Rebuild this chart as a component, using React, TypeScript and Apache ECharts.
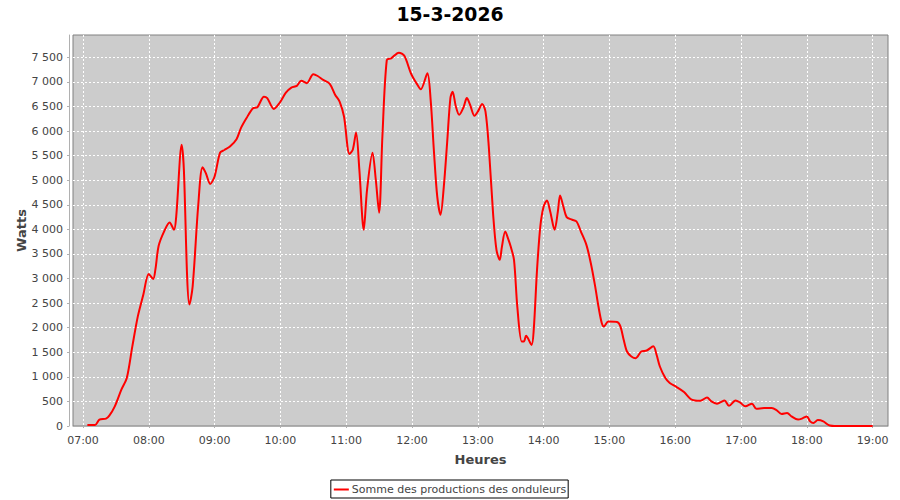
import React, { useEffect, useRef } from "react";
import * as echarts from "echarts";

const chartTitle = "15-3-2026";
const seriesName = "Somme des productions des onduleurs";
const xAxisName = "Heures";
const yAxisName = "Watts";

const times = [
  "07:04", "07:11", "07:15", "07:21", "07:24", "07:29", "07:35", "07:40", "07:45", "07:50",
  "07:55", "08:00", "08:04", "08:06", "08:09", "08:14", "08:19", "08:23", "08:25", "08:30",
  "08:32", "08:35", "08:37", "08:40", "08:45", "08:49", "08:52", "08:56", "09:00", "09:05",
  "09:09", "09:14", "09:20", "09:24", "09:29", "09:35", "09:39", "09:45", "09:48", "09:54",
  "09:59", "10:05", "10:10", "10:15", "10:19", "10:24", "10:30", "10:34", "10:39", "10:45",
  "10:50", "10:54", "10:58", "11:03", "11:06", "11:09", "11:12", "11:16", "11:19", "11:24",
  "11:27", "11:30", "11:33", "11:37", "11:41", "11:48", "11:53", "11:59", "12:04", "12:08",
  "12:14", "12:17", "12:20", "12:23", "12:26", "12:29", "12:32", "12:35", "12:37", "12:40",
  "12:43", "12:47", "12:50", "12:53", "12:57", "13:00", "13:04", "13:07", "13:10", "13:14",
  "13:17", "13:20", "13:22", "13:25", "13:28", "13:30", "13:33", "13:36", "13:40", "13:42",
  "13:44", "13:49", "13:51", "13:54", "13:57", "14:00", "14:03", "14:06", "14:10", "14:13",
  "14:15", "14:18", "14:21", "14:26", "14:30", "14:34", "14:39", "14:43", "14:47", "14:50",
  "14:53", "14:55", "14:59", "15:07", "15:10", "15:13", "15:16", "15:20", "15:24", "15:29",
  "15:34", "15:40", "15:43", "15:46", "15:51", "15:55", "16:01", "16:08", "16:14", "16:18",
  "16:23", "16:29", "16:33", "16:38", "16:41", "16:45", "16:49", "16:55", "16:59", "17:04",
  "17:10", "17:14", "17:21", "17:28", "17:32", "17:37", "17:42", "17:46", "17:52", "17:56",
  "18:00", "18:03", "18:06", "18:10", "18:15", "18:19", "18:21", "18:25", "18:30", "18:35",
  "18:40", "18:45", "18:50", "18:55", "19:00"
];

const watts = [
  20, 20, 130, 150, 210, 400, 740, 980, 1620, 2230,
  2670, 3090, 2990, 3180, 3665, 3960, 4140, 3990, 4260, 5720,
  5210, 3015, 2470, 2840, 4465, 5265, 5145, 4925, 5075, 5560,
  5615, 5685, 5835, 6060, 6260, 6465, 6485, 6700, 6670, 6450,
  6565, 6780, 6885, 6920, 7025, 6975, 7155, 7120, 7040, 6960,
  6735, 6600, 6295, 5535, 5620, 5970, 5210, 3990, 4805, 5560,
  5005, 4340, 5890, 7445, 7480, 7595, 7530, 7175, 6975, 6850,
  7175, 6635, 5585, 4670, 4295, 4870, 5755, 6670, 6800, 6500,
  6330, 6485, 6670, 6530, 6310, 6395, 6550, 6395, 5685, 4295,
  3585, 3380, 3650, 3955, 3785, 3650, 3380, 2430, 1720, 1720,
  1835, 1650, 1960, 3180, 4060, 4465, 4585, 4365, 3990, 4365,
  4690, 4465, 4250, 4195, 4160, 3955, 3685, 3315, 2840, 2430,
  2095, 2025, 2125, 2115, 2025, 1755, 1515, 1415, 1380, 1515,
  1535, 1620, 1450, 1210, 975, 875, 795, 690, 550, 520,
  515, 580, 500, 455, 480, 520, 410, 520, 480, 400,
  455, 350, 365, 365, 330, 245, 265, 195, 130, 155,
  195, 95, 60, 120, 95, 30, 10, 0, 0, 0,
  0, 0, 0, 0, 0
];

const xTickLabels = ["07:00", "08:00", "09:00", "10:00", "11:00", "12:00", "13:00", "14:00", "15:00", "16:00", "17:00", "18:00", "19:00"];
const yTickValues = [0, 500, 1000, 1500, 2000, 2500, 3000, 3500, 4000, 4500, 5000, 5500, 6000, 6500, 7000, 7500];

const toMin = (t: string) => {
  const [h, m] = t.split(":").map(Number);
  return h * 60 + m;
};
const fmtMin = (v: number) => {
  const h = Math.floor(v / 60);
  const m = Math.round(v - h * 60);
  return String(h).padStart(2, "0") + ":" + String(m).padStart(2, "0");
};
const fmtWatts = (v: number) => {
  const s = String(Math.round(v));
  return s.length > 3 ? s.slice(0, s.length - 3) + "\u00a0" + s.slice(s.length - 3) : s;
};

const FONT = "DejaVu Sans";

export default function App() {
  const ref = useRef<HTMLDivElement>(null);
  useEffect(() => {
    if (!ref.current) return;
    const chart = echarts.init(ref.current, undefined, { renderer: "svg" });
    const data = times.map((t, i) => [toMin(t), watts[i]]);
    const xTicks = xTickLabels.map(toMin);
    chart.setOption({
      animation: false,
      backgroundColor: "#ffffff",
      textStyle: { fontFamily: FONT },
      title: {
        text: chartTitle,
        left: "center",
        top: 0,
        padding: [5, 5, 5, 5],
        textStyle: { fontFamily: FONT, fontSize: 18.8, fontWeight: "bold", color: "#000000" },
      },
      legend: {
        bottom: 2,
        left: "center",
        icon: "rect",
        itemWidth: 15,
        itemHeight: 2,
        itemGap: 4,
        padding: [4, 2, 3, 3],
        borderColor: "#000000",
        borderWidth: 1,
        backgroundColor: "#ffffff",
        textStyle: { fontFamily: FONT, fontSize: 11, color: "#444444", padding: [0, 0, 0, -2] },
        data: [seriesName],
      },
      grid: {
        left: 73,
        right: 12,
        top: 35,
        bottom: 74,
        show: true,
        containLabel: false,
        outerBoundsMode: "none",
        backgroundColor: "#cccccc",
        borderColor: "#808080",
        borderWidth: 1,
      },
      xAxis: {
        type: "value",
        min: 410.9,
        max: 1154,
        offset: 4,
        name: xAxisName,
        nameLocation: "middle",
        nameGap: 23,
        nameMoveOverlap: false,
        nameTextStyle: { fontFamily: FONT, fontSize: 13, fontWeight: "bold", color: "#444444" },
        axisLine: { show: true, lineStyle: { color: "#b0b0b0", width: 1 } },
        axisTick: { show: true, length: 2, customValues: xTicks, lineStyle: { color: "#b0b0b0" } },
        axisLabel: {
          customValues: xTicks,
          margin: 5,
          fontFamily: FONT,
          fontSize: 11,
          color: "#444444",
          formatter: (v: number) => fmtMin(v),
        },
        splitLine: { show: true, lineStyle: { color: "#ffffff", type: [2, 2], width: 1 } },
      },
      yAxis: {
        type: "value",
        min: 0,
        max: 7954,
        offset: 4,
        name: yAxisName,
        nameLocation: "middle",
        nameGap: 41,
        nameRotate: 90,
        nameMoveOverlap: false,
        nameTextStyle: { fontFamily: FONT, fontSize: 13, fontWeight: "bold", color: "#444444" },
        axisLine: { show: true, lineStyle: { color: "#b0b0b0", width: 1 } },
        axisTick: { show: true, length: 2, customValues: yTickValues, lineStyle: { color: "#b0b0b0" } },
        axisLabel: {
          customValues: yTickValues,
          margin: 6,
          fontFamily: FONT,
          fontSize: 11,
          color: "#444444",
          formatter: (v: number) => fmtWatts(v),
        },
        splitLine: { show: true, lineStyle: { color: "#ffffff", type: [2, 2], width: 1 } },
      },
      series: [
        {
          name: seriesName,
          type: "line",
          data,
          smooth: 0.3,
          showSymbol: false,
          symbol: "none",
          color: "#ff0000",
          lineStyle: { color: "#ff0000", width: 2 },
        },
      ],
    });
    return () => chart.dispose();
  }, []);
  return (
    <div
      ref={ref}
      style={{ position: "fixed", left: 0, top: 0, width: 900, height: 500 }}
    />
  );
}
